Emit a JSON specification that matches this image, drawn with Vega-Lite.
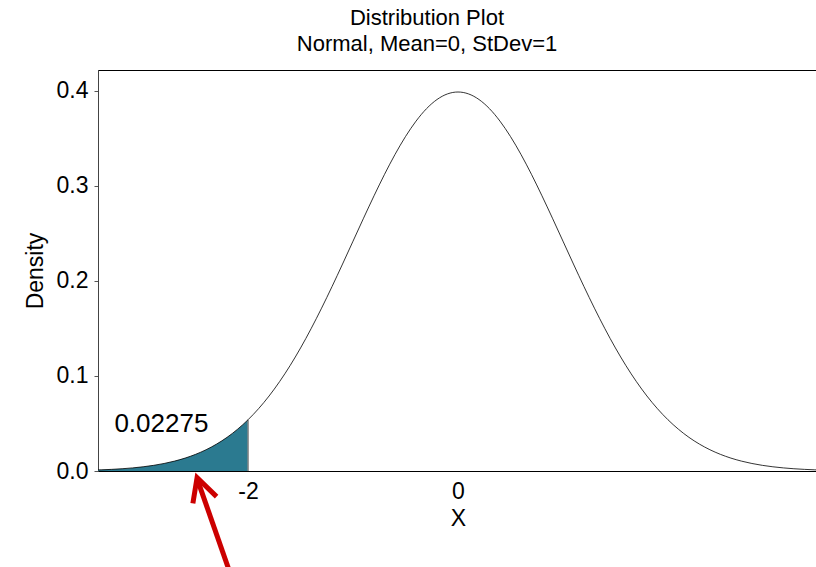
{
  "$schema": "https://vega.github.io/schema/vega-lite/v6.json",
  "autosize": {"type": "none"},
  "width": 720,
  "height": 401,
  "padding": {"left": 98, "top": 70, "right": 0, "bottom": 96},
  "background": "white",
  "config": {
    "font": "Liberation Sans",
    "view": {"stroke": "black", "strokeWidth": 1},
    "axis": {"grid": false, "labelFont": "Liberation Sans", "titleFont": "Liberation Sans", "labelColor": "black", "titleColor": "black", "titleFontWeight": "normal", "labelFontSize": 23, "titleFontSize": 23}
  },
  "title": {
    "text": ["Distribution Plot", "Normal, Mean=0, StDev=1"],
    "font": "Liberation Sans",
    "fontSize": 22,
    "fontWeight": "normal",
    "lineHeight": 26,
    "anchor": "middle",
    "frame": "group",
    "dx": -31,
    "offset": 14,
    "color": "black"
  },
  "datasets": {
    "curve": [
      {"x": -3.5, "d": 0.00087}, {"x": -3.4, "d": 0.00123}, {"x": -3.3, "d": 0.00172}, {"x": -3.2, "d": 0.00238},
      {"x": -3.1, "d": 0.00327}, {"x": -3.0, "d": 0.00443}, {"x": -2.9, "d": 0.00595}, {"x": -2.8, "d": 0.00792},
      {"x": -2.7, "d": 0.01042}, {"x": -2.6, "d": 0.01358}, {"x": -2.5, "d": 0.01753}, {"x": -2.4, "d": 0.02239},
      {"x": -2.3, "d": 0.02833}, {"x": -2.2, "d": 0.03547}, {"x": -2.1, "d": 0.04398}, {"x": -2.0, "d": 0.05399},
      {"x": -1.9, "d": 0.06562}, {"x": -1.8, "d": 0.07895}, {"x": -1.7, "d": 0.09405}, {"x": -1.6, "d": 0.11092},
      {"x": -1.5, "d": 0.12952}, {"x": -1.4, "d": 0.14973}, {"x": -1.3, "d": 0.17137}, {"x": -1.2, "d": 0.19419},
      {"x": -1.1, "d": 0.21785}, {"x": -1.0, "d": 0.24197}, {"x": -0.9, "d": 0.26609}, {"x": -0.8, "d": 0.28969},
      {"x": -0.7, "d": 0.31225}, {"x": -0.6, "d": 0.33322}, {"x": -0.5, "d": 0.35207}, {"x": -0.4, "d": 0.36827},
      {"x": -0.3, "d": 0.38139}, {"x": -0.2, "d": 0.39104}, {"x": -0.1, "d": 0.39695}, {"x": 0.0, "d": 0.39894},
      {"x": 0.1, "d": 0.39695}, {"x": 0.2, "d": 0.39104}, {"x": 0.3, "d": 0.38139}, {"x": 0.4, "d": 0.36827},
      {"x": 0.5, "d": 0.35207}, {"x": 0.6, "d": 0.33322}, {"x": 0.7, "d": 0.31225}, {"x": 0.8, "d": 0.28969},
      {"x": 0.9, "d": 0.26609}, {"x": 1.0, "d": 0.24197}, {"x": 1.1, "d": 0.21785}, {"x": 1.2, "d": 0.19419},
      {"x": 1.3, "d": 0.17137}, {"x": 1.4, "d": 0.14973}, {"x": 1.5, "d": 0.12952}, {"x": 1.6, "d": 0.11092},
      {"x": 1.7, "d": 0.09405}, {"x": 1.8, "d": 0.07895}, {"x": 1.9, "d": 0.06562}, {"x": 2.0, "d": 0.05399},
      {"x": 2.1, "d": 0.04398}, {"x": 2.2, "d": 0.03547}, {"x": 2.3, "d": 0.02833}, {"x": 2.4, "d": 0.02239},
      {"x": 2.5, "d": 0.01753}, {"x": 2.6, "d": 0.01358}, {"x": 2.7, "d": 0.01042}, {"x": 2.8, "d": 0.00792},
      {"x": 2.9, "d": 0.00595}, {"x": 3.0, "d": 0.00443}, {"x": 3.1, "d": 0.00327}, {"x": 3.2, "d": 0.00238},
      {"x": 3.3, "d": 0.00172}, {"x": 3.4, "d": 0.00123}, {"x": 3.5, "d": 0.00087}
    ],
    "tail": [
      {"x": -3.5, "d": 0.00087}, {"x": -3.4, "d": 0.00123}, {"x": -3.3, "d": 0.00172}, {"x": -3.2, "d": 0.00238},
      {"x": -3.1, "d": 0.00327}, {"x": -3.0, "d": 0.00443}, {"x": -2.9, "d": 0.00595}, {"x": -2.8, "d": 0.00792},
      {"x": -2.7, "d": 0.01042}, {"x": -2.6, "d": 0.01358}, {"x": -2.5, "d": 0.01753}, {"x": -2.4, "d": 0.02239},
      {"x": -2.3, "d": 0.02833}, {"x": -2.2, "d": 0.03547}, {"x": -2.1, "d": 0.04398}, {"x": -2.0, "d": 0.05399}
    ],
    "arrow": [
      {"part": "shaft", "i": 0, "x": -2.486, "d": -0.0080},
      {"part": "shaft", "i": 1, "x": -2.170, "d": -0.1080},
      {"part": "head", "i": 0, "x": -2.526, "d": -0.0340},
      {"part": "head", "i": 1, "x": -2.486, "d": -0.0070},
      {"part": "head", "i": 2, "x": -2.300, "d": -0.0270}
    ]
  },
  "layer": [
    {
      "data": {"name": "tail"},
      "mark": {"type": "area", "color": "#2b7a90", "interpolate": "monotone", "clip": true},
      "encoding": {
        "x": {"field": "x", "type": "quantitative", "scale": {"domain": [-3.43, 3.43], "nice": false, "zero": false},
              "axis": {"values": [-2, 0], "labelExpr": "toString(datum.value)", "ticks": false, "domainColor": "black", "labelPadding": 9, "title": "X", "titlePadding": 4}},
        "y": {"field": "d", "type": "quantitative", "scale": {"domain": [0, 0.4221], "nice": false},
              "axis": {"values": [0, 0.1, 0.2, 0.3, 0.4], "format": ".1f", "tickSize": 4, "tickColor": "#555", "domainColor": "#444", "labelPadding": 6, "title": "Density", "titlePadding": 9}}
      }
    },
    {
      "data": {"values": [{"x": -2.0, "lo": 0, "d": 0.05399}]},
      "mark": {"type": "rule", "color": "#888", "strokeWidth": 1.5},
      "encoding": {
        "x": {"field": "x", "type": "quantitative"},
        "y": {"field": "lo", "type": "quantitative"},
        "y2": {"field": "d"}
      }
    },
    {
      "data": {"name": "curve"},
      "mark": {"type": "line", "color": "black", "strokeWidth": 0.8, "interpolate": "monotone", "clip": true},
      "encoding": {
        "x": {"field": "x", "type": "quantitative"},
        "y": {"field": "d", "type": "quantitative"}
      }
    },
    {
      "data": {"values": [{"x": -2.826, "d": 0.0411, "label": "0.02275"}]},
      "mark": {"type": "text", "fontSize": 26, "font": "Liberation Sans", "color": "black", "align": "center", "baseline": "alphabetic"},
      "encoding": {
        "x": {"field": "x", "type": "quantitative"},
        "y": {"field": "d", "type": "quantitative"},
        "text": {"field": "label", "type": "nominal"}
      }
    },
    {
      "data": {"name": "arrow"},
      "mark": {"type": "line", "color": "#cc0000", "strokeWidth": 5, "strokeJoin": "miter", "strokeCap": "butt", "clip": false},
      "encoding": {
        "x": {"field": "x", "type": "quantitative"},
        "y": {"field": "d", "type": "quantitative"},
        "detail": {"field": "part", "type": "nominal"},
        "order": {"field": "i", "type": "quantitative"}
      }
    }
  ]
}
